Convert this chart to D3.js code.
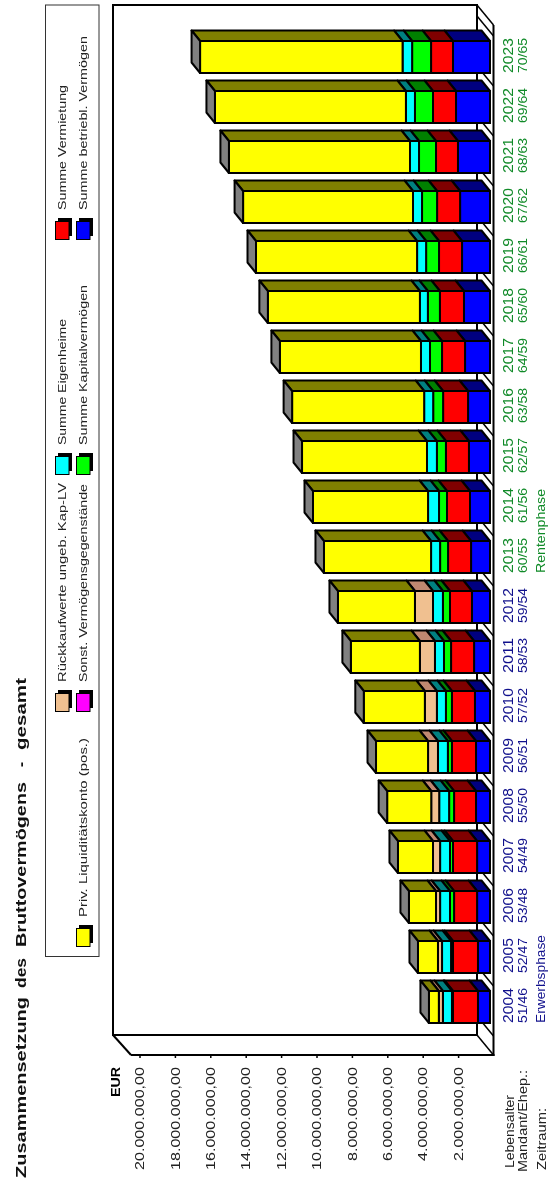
<!DOCTYPE html>
<html lang="de">
<head>
<meta charset="UTF-8">
<title>Zusammensetzung des Bruttovermögens</title>
<script src="https://d3js.org/d3.v7.min.js"></script>
<style>
    html, body { margin: 0; padding: 0; background: #fff; }
    svg { display: block; filter: blur(0.35px); }
    text { font-family: "Liberation Sans", Arial, sans-serif; white-space: pre; }
</style>
</head>
<body>
<svg id="chart" width="551" height="1181"></svg>
<script>
// Values (EUR)
const years = [2004, 2005, 2006, 2007, 2008, 2009, 2010, 2011, 2012, 2013, 2014, 2015, 2016, 2017, 2018, 2019, 2020, 2021, 2022, 2023];
const ages = ["51/46", "52/47", "53/48", "54/49", "55/50", "56/51", "57/52", "58/53", "59/54", "60/55", "61/56", "62/57", "63/58", "64/59", "65/60", "66/61", "67/62", "68/63", "69/64", "70/65"];

const betrieblich = [680000, 680000, 730000, 730000, 790000, 790000, 850000, 900000, 1020000, 1070000, 1130000, 1190000, 1240000, 1410000, 1470000, 1580000, 1690000, 1810000, 1920000, 2090000];
const vermietung = [1410000, 1410000, 1300000, 1360000, 1240000, 1360000, 1300000, 1300000, 1240000, 1300000, 1300000, 1300000, 1410000, 1300000, 1360000, 1300000, 1300000, 1240000, 1300000, 1240000];
const kapital = [60000, 110000, 230000, 170000, 280000, 230000, 340000, 400000, 400000, 450000, 450000, 510000, 560000, 680000, 680000, 730000, 850000, 960000, 1020000, 1070000];
const sonstige = [0, 0, 0, 0, 0, 0, 0, 0, 0, 0, 0, 0, 0, 0, 0, 0, 0, 0, 0, 0];
const eigenheime = [510000, 510000, 560000, 560000, 560000, 560000, 510000, 510000, 560000, 510000, 620000, 560000, 510000, 510000, 450000, 510000, 510000, 510000, 510000, 540000];
const rueckkauf = [230000, 230000, 230000, 400000, 450000, 560000, 680000, 850000, 1020000, 0, 0, 0, 0, 0, 0, 0, 0, 0, 0, 0];
const liquiditaet = [560000, 1130000, 1530000, 1980000, 2490000, 2940000, 3450000, 3900000, 4350000, 6050000, 6500000, 7060000, 7460000, 7970000, 8590000, 9100000, 9600000, 10230000, 10790000, 11440000];

const valueTicks = [2000000, 4000000, 6000000, 8000000, 10000000, 12000000, 14000000, 16000000, 18000000, 20000000];

// stacking order, from the floor upward
const series = [
    { key: "betrieblich", values: betrieblich, front: "#0000ff", top: "#000080" },
    { key: "vermietung", values: vermietung, front: "#ff0000", top: "#800000" },
    { key: "kapital", values: kapital, front: "#00ff00", top: "#008000" },
    { key: "sonstige", values: sonstige, front: "#ff00ff", top: "#800080" },
    { key: "eigenheime", values: eigenheime, front: "#00ffff", top: "#008080" },
    { key: "rueckkauf", values: rueckkauf, front: "#f0c090", top: "#c08870" },
    { key: "liquiditaet", values: liquiditaet, front: "#ffff00", top: "#808000" }
];

// legend, column by column (row 0 upper, row 1 lower in the turned picture)
const legendItems = [
    { name: "Priv. Liquiditätskonto (pos.)", color: "#ffff00", col: 0, row: 1, len: 179 },
    { name: "Rückkaufwerte ungeb. Kap-LV", color: "#f0c090", col: 1, row: 0, len: 199 },
    { name: "Sonst. Vermögensgegenstände", color: "#ff00ff", col: 1, row: 1, len: 198 },
    { name: "Summe Eigenheime", color: "#00ffff", col: 2, row: 0, len: 126 },
    { name: "Summe Kapitalvermögen", color: "#00ff00", col: 2, row: 1, len: 160 },
    { name: "Summe Vermietung", color: "#ff0000", col: 3, row: 0, len: 125 },
    { name: "Summe betriebl. Vermögen", color: "#0000ff", col: 3, row: 1, len: 174 }
];
const legendX = [234, 469, 706, 941];
const legendY = [55, 76];

const titleWords = [
    { word: "Zusammensetzung", start: 3, len: 181 },
    { word: "des", start: 193, len: 30 },
    { word: "Bruttovermögens", start: 234, len: 165 },
    { word: "-", start: 414, len: 5 },
    { word: "gesamt", start: 431, len: 72 }
];

const navy = "#10108c";
const green = "#108a28";

// the page is a scan turned by 90 degrees: draw upright, then turn the group
const svg = d3.select("#chart");
const g = svg.append("g").attr("transform", "translate(0,1181) rotate(-90)");

const wallX = 146, wallRight = 1176, wallTop = 113, wallBottom = 477;
const axisX = 126, axisY = 493.5;
const floorLift = 3.5;
const depthX = 10.5, depthY = -8.5;
const textStretch = 1.24;

const x = d3.scaleBand().domain(years).range([158, 1140]).paddingInner(0.36).paddingOuter(0);
const y = d3.scaleLinear().domain([0, 20000000]).range([axisY, 139.5]);

function label(str, lx, ly, size, len, color, bold) {
    return g.append("text")
        .attr("x", lx).attr("y", ly)
        .attr("font-size", size)
        .attr("font-weight", bold ? "bold" : "normal")
        .attr("fill", color || "#000")
        .attr("textLength", len)
        .attr("lengthAdjust", "spacingAndGlyphs")
        .text(str);
}

// Title: the scan spreads its words unevenly, so each word is placed by itself
const title = g.append("text").attr("y", 26).attr("font-size", 15).attr("font-weight", "bold").attr("fill", "#111");
titleWords.forEach((t, i) => {
    title.append("tspan")
        .attr("x", t.start)
        .attr("textLength", t.len)
        .attr("lengthAdjust", "spacingAndGlyphs")
        .text(t.word);
    if (i < titleWords.length - 1) title.append("tspan").text(" ");
});

// Legend
g.append("rect").attr("x", 224.5).attr("y", 45.5).attr("width", 951.5).attr("height", 53.5)
    .attr("fill", "#fff").attr("stroke", "#333").attr("stroke-width", 1);

const legend = g.selectAll(".legend-item").data(legendItems).enter().append("g")
    .attr("class", "legend-item")
    .attr("transform", d => `translate(${legendX[d.col]},${legendY[d.row]})`);
legend.append("rect").attr("x", 4).attr("y", 3).attr("width", 18).attr("height", 14).attr("fill", "#000");
legend.append("rect").attr("x", 0.5).attr("y", 0.5).attr("width", 18).attr("height", 13.5)
    .attr("fill", d => d.color).attr("stroke", "#000").attr("stroke-width", 1);
legend.append("text")
    .attr("x", 30).attr("y", 10.5)
    .attr("font-size", 11.5)
    .attr("fill", "#222")
    .attr("textLength", d => d.len)
    .attr("lengthAdjust", "spacingAndGlyphs")
    .text(d => d.name);

// Back wall, floor and front axis
g.append("rect").attr("x", wallX).attr("y", wallTop).attr("width", wallRight - wallX).attr("height", wallBottom - wallTop)
    .attr("fill", "#fff").attr("stroke", "#000").attr("stroke-width", 2);

// floor edges, one just inside each bar's wall end plus the two outer corners
const floorLines = [wallX, wallRight].concat(years.map(d => x(d) + 7), x(2023) + x.step() + 7);
g.selectAll(".floor-line").data(floorLines).enter().append("line")
    .attr("class", "floor-line")
    .attr("x1", d => d).attr("y1", wallBottom)
    .attr("x2", d => d - 20).attr("y2", axisY)
    .attr("stroke", "#000").attr("stroke-width", 1.5);

g.append("line").attr("x1", wallX).attr("y1", wallTop).attr("x2", axisX).attr("y2", 131)
    .attr("stroke", "#000").attr("stroke-width", 2);
g.append("line").attr("x1", axisX).attr("y1", 131).attr("x2", axisX).attr("y2", axisY + 1)
    .attr("stroke", "#000").attr("stroke-width", 2);
g.append("line").attr("x1", axisX - 1).attr("y1", axisY).attr("x2", wallRight - 20).attr("y2", axisY)
    .attr("stroke", "#000").attr("stroke-width", 2);

// Value axis
const fmt = d3.formatLocale({ decimal: ",", thousands: ".", grouping: [3], currency: ["", ""] }).format(",.2f");
const axis = g.append("g").attr("transform", `translate(${axisX},0)`)
    .call(d3.axisLeft(y).tickValues(valueTicks).tickSize(3).tickFormat(fmt));
axis.select(".domain").remove();
axis.selectAll("line").attr("stroke", "#000").attr("stroke-width", 1.5);
axis.selectAll("text")
    .attr("x", 0)
    .attr("font-size", 13)
    .attr("font-family", "Liberation Sans")
    .attr("fill", "#222")
    .attr("transform", `translate(-12,0) scale(${textStretch},1)`);

label("EUR", 84, 120, 13, 30, "#000", true);

// Stacked 3D bars
const rows = years.map((year, i) => {
    const row = { year };
    series.forEach(s => { row[s.key] = s.values[i]; });
    return row;
});
const stacked = d3.stack().keys(series.map(s => s.key))(rows);
const barY = v => y(v) - floorLift;
const w = x.bandwidth();

const poly = pts => pts.map(p => p.join(",")).join(" ");

const seriesGroups = g.selectAll(".series").data(stacked).enter().append("g").attr("class", "series");
seriesGroups.each(function (layer, si) {
    const s = series[si];
    const marks = d3.select(this).selectAll("g").data(layer.filter(d => d[1] > d[0])).enter().append("g");
    // top face
    marks.append("polygon")
        .attr("points", d => {
            const x0 = x(d.data.year), a = barY(d[0]), b = barY(d[1]);
            return poly([[x0 + w, a], [x0 + w, b], [x0 + w + depthX, b + depthY], [x0 + w + depthX, a + depthY]]);
        })
        .attr("fill", s.top).attr("stroke", "#000").attr("stroke-width", 2).attr("stroke-linejoin", "round");
    // front face
    marks.append("rect")
        .attr("x", d => x(d.data.year))
        .attr("y", d => barY(d[1]))
        .attr("width", w)
        .attr("height", d => barY(d[0]) - barY(d[1]))
        .attr("fill", s.front).attr("stroke", "#000").attr("stroke-width", 2);
});

// gray end cap on the highest segment of each bar
const topLayer = stacked[stacked.length - 1];
g.selectAll(".cap").data(topLayer).enter().append("polygon")
    .attr("class", "cap")
    .attr("points", d => {
        const x0 = x(d.data.year), b = barY(d[1]);
        return poly([[x0, b], [x0 + w, b], [x0 + w + depthX, b + depthY], [x0 + depthX, b + depthY]]);
    })
    .attr("fill", "#808080").attr("stroke", "#000").attr("stroke-width", 2).attr("stroke-linejoin", "round");

// Category labels
const phaseColor = d => (d < 2013 ? navy : green);
g.selectAll(".year").data(years).enter().append("text")
    .attr("class", "year")
    .attr("x", d => x(d)).attr("y", 513)
    .attr("font-size", 14).attr("fill", phaseColor)
    .attr("textLength", 35).attr("lengthAdjust", "spacingAndGlyphs")
    .text(d => d);
g.selectAll(".age").data(ages).enter().append("text")
    .attr("class", "age")
    .attr("x", (d, i) => x(years[i])).attr("y", 526.5)
    .attr("font-size", 12).attr("fill", (d, i) => phaseColor(years[i]))
    .attr("textLength", 35).attr("lengthAdjust", "spacingAndGlyphs")
    .text(d => d);

label("Erwerbsphase", x(2004), 545, 12, 88, navy);
label("Rentenphase", x(2013), 545, 12, 84, green);

label("Lebensalter", 13, 514, 12.5, 73, "#222");
label("Mandant/Ehep.:", 9, 527, 12.5, 102, "#222");
label("Zeitraum:", 11, 546, 12.5, 62, "#222");
</script>
</body>
</html>
